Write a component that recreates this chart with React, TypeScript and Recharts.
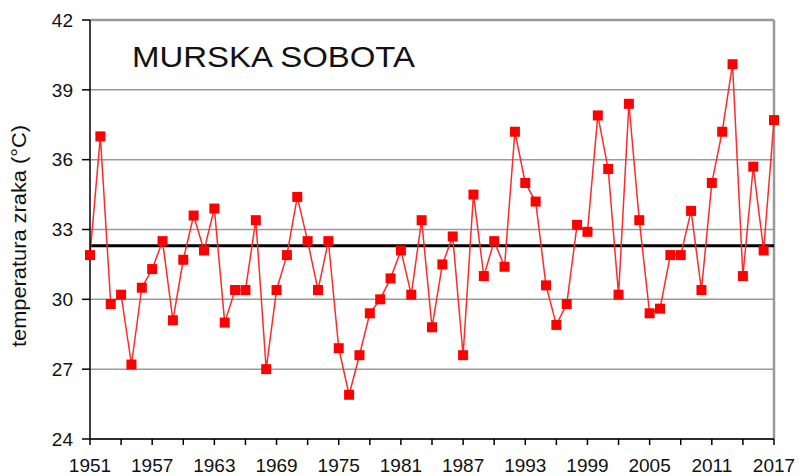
import React from 'react';
import { LineChart, Line, XAxis, YAxis, CartesianGrid, ReferenceLine, Customized } from 'recharts';

// Maksimalna temperatura zraka, Murska Sobota
const years: number[] = [
  1951, 1952, 1953, 1954, 1955, 1956, 1957, 1958, 1959, 1960,
  1961, 1962, 1963, 1964, 1965, 1966, 1967, 1968, 1969, 1970,
  1971, 1972, 1973, 1974, 1975, 1976, 1977, 1978, 1979, 1980,
  1981, 1982, 1983, 1984, 1985, 1986, 1987, 1988, 1989, 1990,
  1991, 1992, 1993, 1994, 1995, 1996, 1997, 1998, 1999, 2000,
  2001, 2002, 2003, 2004, 2005, 2006, 2007, 2008, 2009, 2010,
  2011, 2012, 2013, 2014, 2015, 2016, 2017,
];

const temperatures: number[] = [
  31.9, 37.0, 29.8, 30.2, 27.2, 30.5, 31.3, 32.5, 29.1, 31.7,
  33.6, 32.1, 33.9, 29.0, 30.4, 30.4, 33.4, 27.0, 30.4, 31.9,
  34.4, 32.5, 30.4, 32.5, 27.9, 25.9, 27.6, 29.4, 30.0, 30.9,
  32.1, 30.2, 33.4, 28.8, 31.5, 32.7, 27.6, 34.5, 31.0, 32.5,
  31.4, 37.2, 35.0, 34.2, 30.6, 28.9, 29.8, 33.2, 32.9, 37.9,
  35.6, 30.2, 38.4, 33.4, 29.4, 29.6, 31.9, 31.9, 33.8, 30.4,
  35.0, 37.2, 40.1, 31.0, 35.7, 32.1, 37.7,
];

const meanTemperature = 32.3;

const yTicks: number[] = [24, 27, 30, 33, 36, 39, 42];
const xTicks: number[] = [
  1951, 1954, 1957, 1960, 1963, 1966, 1969, 1972, 1975, 1978, 1981, 1984,
  1987, 1990, 1993, 1996, 1999, 2002, 2005, 2008, 2011, 2014, 2017,
];

const title = 'MURSKA SOBOTA';
const yLabel = 'temperatura zraka (°C)';

const chartData = years.map((year, i) => ({ year, temp: temperatures[i] }));

const FONT = '"Liberation Sans", Arial, sans-serif';

const SquareDot = (props: any) => {
  const { cx, cy } = props;
  if (cx == null || cy == null) return null;
  return <rect x={cx - 5} y={cy - 5} width={10} height={10} fill="#ff0000" />;
};

const Texts = () => (
  <g>
    <text
      x={132}
      y={67}
      fontSize={29}
      fontFamily={FONT}
      fill="#111"
      textLength={283}
      lengthAdjust="spacingAndGlyphs"
    >
      {title}
    </text>
    <text
      x={0}
      y={0}
      transform="translate(26,236) rotate(-90)"
      textAnchor="middle"
      fontSize={20}
      fontFamily={FONT}
      fill="#111"
      textLength={222}
      lengthAdjust="spacingAndGlyphs"
    >
      {yLabel}
    </text>
  </g>
);

const App: React.FC = () => {
  return (
    <div style={{ position: 'absolute', left: 0, top: 0, width: 801, height: 476, background: '#fff' }}>
      <LineChart
        width={801}
        height={476}
        data={chartData}
        margin={{ top: 20, right: 27, bottom: 0, left: 8 }}
      >
        <CartesianGrid horizontal vertical={false} stroke="#9a9a9a" strokeWidth={1.5} />
        <XAxis
          dataKey="year"
          type="number"
          domain={[1951, 2017]}
          ticks={xTicks}
          interval={0}
          tickFormatter={(v: number) => ((v - 1951) % 6 === 0 ? String(v) : '')}
          height={37}
          tickSize={6}
          tickMargin={14}
          stroke="#000"
          strokeWidth={1.5}
          tick={{ fontSize: 19, fontFamily: FONT, fill: '#111' }}
        />
        <YAxis
          type="number"
          domain={[24, 42]}
          ticks={yTicks}
          interval={0}
          width={82}
          tickSize={8}
          tickMargin={9}
          stroke="#000"
          strokeWidth={1.5}
          tick={{ fontSize: 19, fontFamily: FONT, fill: '#111' }}
        />
        <ReferenceLine y={42} stroke="#9a9a9a" strokeWidth={2.5} />
        <ReferenceLine x={2017} stroke="#9a9a9a" strokeWidth={2.5} />
        <ReferenceLine y={meanTemperature} stroke="#000" strokeWidth={3} />
        <Line
          type="linear"
          dataKey="temp"
          stroke="#ff2a2a"
          strokeWidth={1.5}
          dot={<SquareDot />}
          activeDot={false}
          isAnimationActive={false}
        />
        <Customized component={Texts} />
      </LineChart>
    </div>
  );
};

export default App;
